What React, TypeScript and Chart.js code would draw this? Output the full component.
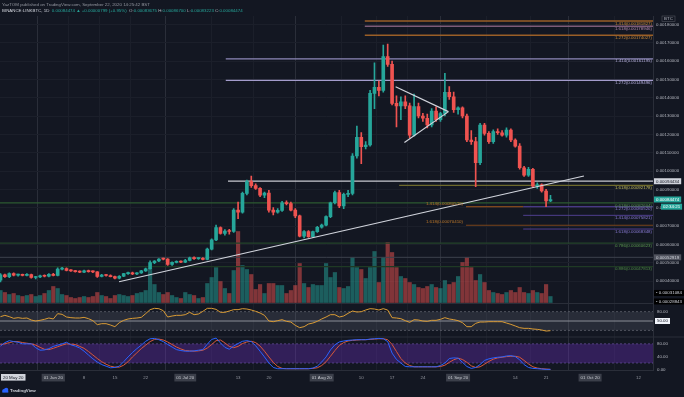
import { useEffect, useRef } from "react";
import { Chart, registerables } from "chart.js";

Chart.register(...registerables);

const FONT = "'Liberation Sans', Arial, sans-serif";
const FS = 4.4;
const BG = "#131722";
const TEAL = "#26a69a";
const RED = "#ef5350";

const HEADER_AUTHOR = "YazTOM published on TradingView.com, September 22, 2020 14:25:42 BST";
const SYMBOL = "BINANCE:LINKBTC, 1D";
const COUNTDOWN = "02:34:21";
const CURSOR_DATE = "20 May 20";
const QUOTE = "BTC";

// prices below are in units of 0.0001 BTC; day 0 = 01 Jun 2020, first candle 20 May 2020
const PRICE_UNIT = 1e-4;
const FIRST_DAY = -12;

const OPEN = [
  4.05, 4.33, 4.24, 4.40, 4.32, 4.34, 4.31, 4.35, 4.19, 4.22, 4.28, 4.26,
  4.36, 4.30, 4.65, 4.68, 4.58, 4.55, 4.51, 4.48, 4.56, 4.51,
  4.50, 4.25, 4.32, 4.30, 4.24, 4.15, 4.26, 4.40, 4.45, 4.38,
  4.44, 4.55, 4.67, 5.00, 5.09, 5.20, 5.19, 4.90, 5.02, 5.05,
  5.03, 5.12, 5.26, 5.22, 5.24, 5.18, 5.74, 6.24, 6.91, 6.60,
  6.73, 6.70, 7.87, 7.75, 8.78, 9.42, 9.20, 9.05, 8.68, 8.80,
  7.87, 7.76, 7.85, 8.27, 8.22, 7.87, 7.55, 6.45, 6.70, 6.42,
  6.69, 6.93, 7.05, 7.51, 8.27, 8.82, 8.10, 8.73, 8.78, 10.82,
  11.84, 11.33, 11.42, 14.24, 14.56, 14.40, 16.24, 15.82, 13.69, 13.55,
  13.78, 13.55, 11.96, 13.52, 13.00, 12.88, 12.51, 13.27, 12.80, 13.14,
  14.29, 14.05, 13.35, 13.45, 13.00, 11.69, 11.60, 10.45, 12.51, 12.05,
  11.60, 12.15, 12.09, 11.96, 12.24, 11.69, 11.36, 10.18, 9.78, 10.09,
  9.18, 9.25, 8.91, 8.3675,
];
const HIGH = [
  4.40, 4.38, 4.45, 4.45, 4.38, 4.38, 4.40, 4.38, 4.26, 4.32, 4.33, 4.40,
  4.42, 4.72, 4.75, 4.72, 4.62, 4.58, 4.56, 4.60, 4.60, 4.56,
  4.52, 4.36, 4.36, 4.33, 4.27, 4.30, 4.42, 4.48, 4.48, 4.46,
  4.58, 4.70, 5.10, 5.12, 5.22, 5.25, 5.22, 5.05, 5.10, 5.10,
  5.18, 5.30, 5.32, 5.28, 5.28, 5.80, 6.30, 7.05, 6.95, 6.80,
  6.82, 7.95, 8.30, 8.85, 9.50, 9.73, 9.30, 9.10, 8.85, 8.95,
  8.00, 7.95, 8.35, 8.38, 8.30, 7.95, 7.60, 6.75, 6.75, 6.72,
  6.98, 7.10, 7.55, 8.30, 8.90, 8.95, 8.80, 8.95, 10.95, 12.45,
  12.10, 11.60, 14.40, 15.90, 14.90, 16.87, 16.93, 16.00, 14.10, 14.05,
  14.10, 13.70, 14.20, 13.70, 13.15, 13.10, 13.40, 13.50, 13.20, 15.33,
  14.60, 14.30, 13.50, 13.50, 13.10, 12.20, 11.84, 12.60, 12.60, 12.15,
  12.25, 12.30, 12.20, 12.35, 12.30, 11.75, 11.50, 10.25, 10.20, 10.15,
  9.35, 9.30, 9.00, 8.67,
];
const LOW = [
  3.95, 4.20, 4.18, 4.28, 4.26, 4.28, 4.28, 4.15, 4.12, 4.18, 4.22, 4.22,
  4.28, 4.28, 4.60, 4.55, 4.52, 4.48, 4.46, 4.45, 4.48, 4.46,
  4.20, 4.22, 4.26, 4.22, 4.12, 4.12, 4.24, 4.36, 4.35, 4.35,
  4.42, 4.52, 4.65, 4.95, 5.05, 5.15, 4.85, 4.85, 4.98, 5.00,
  5.00, 5.10, 5.18, 5.18, 5.15, 5.15, 5.70, 6.20, 6.55, 6.50,
  6.55, 6.65, 7.40, 7.70, 8.70, 9.10, 9.00, 8.60, 8.55, 7.75,
  7.60, 7.70, 7.80, 8.15, 7.82, 7.45, 6.40, 6.35, 6.38, 6.38,
  6.65, 6.88, 7.00, 7.45, 8.20, 8.00, 7.95, 8.60, 8.70, 10.70,
  10.40, 11.20, 11.35, 13.40, 14.10, 14.30, 15.70, 13.60, 12.40, 12.80,
  13.40, 11.80, 11.90, 12.90, 12.70, 12.35, 12.40, 12.70, 12.70, 13.00,
  13.90, 13.20, 13.10, 12.90, 11.60, 11.45, 9.15, 10.35, 11.95, 11.50,
  11.50, 12.00, 11.90, 11.85, 11.60, 11.30, 10.10, 9.70, 9.70, 9.10,
  9.05, 8.85, 8.05, 8.3223,
];
const CLOSE = [
  4.33, 4.24, 4.40, 4.32, 4.34, 4.31, 4.35, 4.19, 4.22, 4.28, 4.26, 4.36,
  4.30, 4.65, 4.68, 4.58, 4.55, 4.51, 4.48, 4.56, 4.51, 4.50,
  4.25, 4.32, 4.30, 4.24, 4.15, 4.26, 4.40, 4.45, 4.38, 4.44,
  4.55, 4.67, 5.00, 5.09, 5.20, 5.19, 4.90, 5.02, 5.05, 5.03,
  5.12, 5.26, 5.22, 5.24, 5.18, 5.74, 6.24, 6.91, 6.60, 6.73,
  6.70, 7.87, 7.75, 8.78, 9.42, 9.20, 9.05, 8.68, 8.80, 7.87,
  7.76, 7.85, 8.27, 8.22, 7.87, 7.55, 6.45, 6.70, 6.42, 6.69,
  6.93, 7.05, 7.51, 8.27, 8.82, 8.10, 8.73, 8.78, 10.82, 11.84,
  11.33, 11.42, 14.24, 14.56, 14.40, 16.24, 15.82, 13.69, 13.55, 13.78,
  13.55, 11.96, 13.52, 13.00, 12.88, 12.51, 13.27, 12.80, 13.14, 14.29,
  14.05, 13.35, 13.45, 13.00, 11.69, 11.60, 10.45, 12.51, 12.05, 11.60,
  12.15, 12.09, 11.96, 12.24, 11.69, 11.36, 10.18, 9.78, 10.09, 9.18,
  9.25, 8.91, 8.3675, 8.4474,
];
const VOLUME = [
  12, 10, 8, 9, 7, 6, 7, 8, 6, 7, 9, 12,
  16, 14, 8, 7, 5, 4, 5, 6, 5, 6,
  10, 7, 6, 4, 7, 8, 7, 6, 7, 9,
  10, 12, 34, 18, 10, 8, 10, 7, 5, 4,
  10, 8, 7, 4, 5, 19, 25, 35, 21, 14,
  9, 32, 71, 37, 33, 28, 13, 18, 9, 19,
  19, 17, 17, 9, 12, 17, 39, 19, 15, 18,
  17, 17, 39, 25, 30, 15, 14, 16, 45, 35,
  33, 24, 35, 51, 20, 45, 60, 50, 35, 26,
  24, 20, 18, 15, 14, 16, 18, 15, 14, 22,
  18, 20, 26, 40, 45, 35, 22, 28, 20, 12,
  10, 9, 8, 10, 12, 10, 15, 10, 9, 12,
  10, 9, 18, 6,
];
const RSI = [
  64.0, 68.3, 64.0, 58.6, 60.8, 58.6, 59.7, 53.2, 50.0, 52.2, 55.4, 59.7,
  56.5, 73.7, 71.5, 62.9, 60.8, 59.7, 59.7, 61.8, 57.5, 51.1,
  38.2, 41.4, 41.4, 37.1, 31.7, 44.6, 52.2, 56.5, 58.6, 59.7,
  61.8, 73.7, 86.6, 90.9, 89.8, 83.3, 62.9, 66.1, 68.3, 68.3,
  70.4, 78.0, 70.4, 72.6, 81.2, 90.9, 90.9, 87.6, 78.0, 78.0,
  82.3, 86.6, 86.6, 89.8, 88.7, 85.5, 81.2, 75.8, 68.3, 50.0,
  47.8, 51.1, 54.3, 48.9, 46.8, 36.0, 28.5, 31.7, 40.3, 43.5,
  48.9, 56.5, 62.9, 70.4, 70.4, 62.9, 66.1, 74.7, 82.3, 79.0,
  80.1, 85.5, 89.8, 88.7, 85.5, 89.8, 85.5, 60.8, 59.7, 57.5,
  51.1, 45.7, 54.3, 53.2, 50.0, 48.9, 52.2, 52.2, 55.4, 60.8,
  56.5, 54.3, 51.1, 44.6, 31.7, 31.7, 42.5, 46.8, 46.8, 47.8,
  47.8, 47.8, 47.8, 43.5, 39.2, 33.9, 28.5, 26.3, 26.3, 24.2,
  23.1, 21.0, 17.7, 18.8,
];
const STOCH_K = [
  73, 84, 90, 87, 85, 80, 80, 80, 68, 60, 61, 65,
  72, 76, 80, 85, 77, 73, 67, 57, 45, 33,
  23, 15, 10, 5, 6, 10, 24, 39, 53, 65,
  76, 88, 96, 97, 93, 87, 78, 70, 62, 59,
  57, 57, 58, 60, 62, 79, 94, 98, 83, 69,
  63, 73, 81, 88, 90, 87, 74, 57, 39, 20,
  6, 2, 2, 2, 2, 2, 2, 2, 2, 4,
  10, 23, 39, 61, 77, 86, 89, 91, 92, 93,
  93, 93, 95, 96, 97, 96, 87, 51, 31, 20,
  9, 8, 8, 8, 8, 8, 8, 8, 12, 20,
  34, 36, 35, 22, 9, 3, 6, 15, 28, 33,
  36, 38, 39, 42, 43, 40, 30, 15, 6, 3,
  2, 1, 0, 0,
];
const STOCH_D = [
  78, 80, 84, 87, 87, 84, 82, 80, 76, 69, 63, 62,
  66, 71, 76, 80, 79, 78, 72, 66, 56, 45,
  34, 24, 16, 10, 7, 7, 13, 24, 39, 52,
  65, 76, 87, 94, 95, 92, 86, 78, 70, 64,
  59, 58, 57, 58, 60, 67, 78, 90, 92, 83,
  72, 68, 72, 81, 86, 88, 84, 73, 57, 39,
  22, 9, 3, 2, 2, 2, 2, 2, 2, 3,
  5, 12, 24, 41, 59, 75, 84, 89, 91, 92,
  93, 93, 94, 95, 96, 96, 93, 78, 56, 34,
  20, 12, 8, 8, 8, 8, 8, 8, 9, 13,
  22, 30, 35, 31, 22, 11, 6, 8, 16, 25,
  32, 36, 38, 40, 41, 41, 38, 28, 17, 8,
  4, 2, 1, 0,
];

const PRICE_TICKS = [0.0004, 0.0005, 0.0006, 0.0007, 0.0008, 0.0009, 0.001, 0.0011, 0.0012, 0.0013, 0.0014, 0.0015, 0.0016, 0.0017, 0.0018];
const RSI_TICKS = [80, 50];
const STOCH_TICKS = [80, 40, 0];
const RSI_BAND = [80, 50, 20];
const STOCH_BAND = [80, 20];
const TIME_TICK_DAYS = [0, 7, 14, 21, 30, 42, 49, 61, 70, 77, 84, 92, 105, 112, 122, 133];
const TIME_TICK_LABELS = ["01 Jun 20", "8", "15", "22", "01 Jul 20", "13", "20", "01 Aug 20", "10", "17", "24", "01 Sep 20", "14", "21", "01 Oct 20", "12"];

// horizontal drawing levels (price, start day, end day or null = right edge)
const LEVEL_PRICES = [0.00181827, 0.00178946, 0.00174027, 0.00161195, 0.00149496, 0.00094434, 0.00092178, 0.00082604, 0.0008052, 0.0008052, 0.00075821, 0.0007041, 0.00068348, 0.00060623, 0.00052919, 0.00047813];
const LEVEL_FROM = [70.8, 70.8, 70.8, 39.2, 39.2, 39.7, 78.6, -13, 93.8, 106.8, 106.8, 93.8, 106.8, -13, -13, -13];
const LEVEL_TO = [null, null, null, null, null, null, null, null, 106.8, null, null, null, null, null, null, null];
const LEVEL_TEXT = ["1.414(0.00181827)", "1.618(0.00178946)", "1.272(0.00174027)", "1.414(0.00161195)", "1.272(0.00149496)", "", "1.618(0.00092178)", "0.618(0.00082604)", "", "1.272(0.00080520)", "1.414(0.00075821)", "", "1.618(0.00068348)", "0.786(0.00060623)", "", "0.886(0.00047813)"];
const LEVEL_LEFT_TEXT = ["", "", "", "", "", "", "", "", "1.414(0.00080520)", "", "", "1.618(0.00070410)", "", "", "", ""];
const LEVEL_STYLE = [
  { line: "#9a5f27", text: "#c98a3a", w: 1.5 },
  { line: "#7d5c78", text: "#b78bb0", w: 1.5 },
  { line: "#9a5f27", text: "#c98a3a", w: 1.5 },
  { line: "#8e88b8", text: "#b0aad6", w: 1.2 },
  { line: "#a39ccc", text: "#b6b0de", w: 1.2 },
  { line: "#c8cad0", text: "#c8cad0", w: 1.2 },
  { line: "#6e6a2c", text: "#c4bd62", w: 1.2 },
  { line: "#2c5a30", text: "#5a9a4e", w: 1.2 },
  { line: "#a35a1c", text: "#c07a2a", w: 1.2 },
  { line: "#5b46a6", text: "#8a7cd6", w: 1.2 },
  { line: "#4f3f8f", text: "#8a7cd6", w: 1 },
  { line: "#7a451b", text: "#c07a2a", w: 1.2 },
  { line: "#4f3f8f", text: "#8a7cd6", w: 1 },
  { line: "#24452a", text: "#5a9a4e", w: 1.2 },
  { line: "#3d414c", text: "#d1d4dc", w: 1 },
  { line: "#1f3a24", text: "#4f8a45", w: 1.2 },
];
const AXIS_BOX_LEVELS = [5, 14]; // levels that show a tag on the price axis
const EXTRA_AXIS_VALUES = [0.00031084, 0.00028843];

const TREND_LINES = [
  [{ x: 14.95, y: 0.000396 }, { x: 120.6, y: 0.000973 }],
  [{ x: 77.8, y: 0.00146 }, { x: 89.8, y: 0.001324 }],
  [{ x: 79.8, y: 0.001155 }, { x: 89.8, y: 0.001324 }],
];

const X_MIN = -12.11;
const X_MAX = 136.3;

export default function App() {
  const ref = useRef<HTMLCanvasElement>(null);

  useEffect(() => {
    const canvas = ref.current;
    if (!canvas) return;
    const U = PRICE_UNIT;
    const days = OPEN.map((_, i) => FIRST_DAY + i);
    const isUp = (i: number) => CLOSE[i] >= OPEN[i];
    const cColors = days.map((_, i) => (isUp(i) ? TEAL : RED));
    const vColors = days.map((_, i) => (isUp(i) ? "rgba(38,166,154,0.5)" : "rgba(239,83,80,0.5)"));
    const last = CLOSE.length - 1;
    const fmt = (v: number) => v.toFixed(8);

    const levelSets = LEVEL_PRICES.map((p, i) => ({
      type: "line",
      xAxisID: "x",
      yAxisID: "yPrice",
      data: [
        { x: LEVEL_FROM[i], y: p },
        { x: LEVEL_TO[i] === null ? X_MAX + 1 : LEVEL_TO[i], y: p },
      ],
      borderColor: LEVEL_STYLE[i].line,
      borderWidth: LEVEL_STYLE[i].w,
      pointRadius: 0,
      order: 5,
    }));
    const trendSets = TREND_LINES.map((pts) => ({
      type: "line",
      xAxisID: "x",
      yAxisID: "yPrice",
      data: pts,
      borderColor: "#d1d4dc",
      borderWidth: 1.2,
      pointRadius: 0,
      order: 0,
    }));

    const deco = {
      id: "tvDeco",
      beforeDraw(chart: any) {
        const { ctx } = chart;
        ctx.save();
        ctx.fillStyle = BG;
        ctx.fillRect(0, 0, chart.width, chart.height);
        ctx.restore();
      },
      beforeDatasetsDraw(chart: any) {
        const { ctx, chartArea: ca, scales } = chart;
        const yr = scales.yRsi;
        const ys = scales.yStoch;
        ctx.save();
        // RSI band
        const r1 = yr.getPixelForValue(RSI_BAND[0]);
        const r3 = yr.getPixelForValue(RSI_BAND[2]);
        ctx.fillStyle = "rgba(126,130,144,0.2)";
        ctx.fillRect(ca.left, r1, ca.right - ca.left, r3 - r1);
        ctx.strokeStyle = "#5d606b";
        ctx.lineWidth = 0.8;
        ctx.setLineDash([2, 2]);
        [r1, r3].forEach((y) => {
          ctx.beginPath();
          ctx.moveTo(ca.left, y);
          ctx.lineTo(ca.right, y);
          ctx.stroke();
        });
        ctx.setLineDash([]);
        ctx.strokeStyle = "#8a8d96";
        ctx.lineWidth = 1;
        const r2 = yr.getPixelForValue(RSI_BAND[1]);
        ctx.beginPath();
        ctx.moveTo(ca.left, r2);
        ctx.lineTo(ca.right, r2);
        ctx.stroke();
        // Stoch band
        const s1 = ys.getPixelForValue(STOCH_BAND[0]);
        const s2 = ys.getPixelForValue(STOCH_BAND[1]);
        ctx.fillStyle = "rgba(112,48,196,0.34)";
        ctx.fillRect(ca.left, s1, ca.right - ca.left, s2 - s1);
        ctx.strokeStyle = "#5e4a90";
        ctx.lineWidth = 0.8;
        ctx.setLineDash([2, 2]);
        [s1, s2].forEach((y) => {
          ctx.beginPath();
          ctx.moveTo(ca.left, y);
          ctx.lineTo(ca.right, y);
          ctx.stroke();
        });
        ctx.setLineDash([]);
        // pane separators
        ctx.strokeStyle = "#2a2e39";
        ctx.lineWidth = 1;
        [yr.top, ys.top].forEach((y) => {
          ctx.beginPath();
          ctx.moveTo(0, y);
          ctx.lineTo(chart.width, y);
          ctx.stroke();
        });
        ctx.restore();
      },
      afterDraw(chart: any) {
        const { ctx, chartArea: ca, scales } = chart;
        const yp = scales.yPrice;
        const yr = scales.yRsi;
        const xs = scales.x;
        ctx.save();
        ctx.font = `${FS}px ${FONT}`;
        ctx.textBaseline = "middle";

        // header
        ctx.textAlign = "left";
        ctx.fillStyle = "#9598a1";
        ctx.fillText(HEADER_AUTHOR, 2, 4.5);
        const chg = (CLOSE[last] - CLOSE[last - 1]) * U;
        const pct = ((CLOSE[last] - CLOSE[last - 1]) / CLOSE[last - 1]) * 100;
        const segs: [string, string][] = [
          [SYMBOL + "  ", "#d1d4dc"],
          [`${fmt(CLOSE[last] * U)} \u25B2 +${fmt(chg)} (+${pct.toFixed(2)}%)  `, TEAL],
          ["O:", "#b2b5be"], [fmt(OPEN[last] * U) + " ", TEAL],
          ["H:", "#b2b5be"], [fmt(HIGH[last] * U) + " ", TEAL],
          ["L:", "#b2b5be"], [fmt(LOW[last] * U) + " ", TEAL],
          ["C:", "#b2b5be"], [fmt(CLOSE[last] * U), TEAL],
        ];
        let hx = 2;
        segs.forEach(([t, c]) => {
          ctx.fillStyle = c;
          ctx.fillText(t, hx, 10.8);
          hx += ctx.measureText(t).width;
        });

        // level labels
        LEVEL_PRICES.forEach((p, i) => {
          const y = yp.getPixelForValue(p);
          if (LEVEL_TEXT[i]) {
            ctx.textAlign = "right";
            ctx.fillStyle = LEVEL_STYLE[i].text;
            ctx.fillText(LEVEL_TEXT[i], ca.right - 1, y + 2.4);
          }
          if (LEVEL_LEFT_TEXT[i]) {
            ctx.textAlign = "right";
            ctx.fillStyle = LEVEL_STYLE[i].text;
            ctx.fillText(LEVEL_LEFT_TEXT[i], xs.getPixelForValue(LEVEL_FROM[i]) - 3, y - 3.2);
          }
        });

        // axis tags
        const tag = (text: string, y: number, bg: string, fg: string, left = ca.right + 1) => {
          ctx.textAlign = "left";
          const w = ctx.measureText(text).width + 4;
          ctx.fillStyle = bg;
          ctx.fillRect(left, y - 3, w, 6);
          ctx.fillStyle = fg;
          ctx.fillText(text, left + 2, y + 0.2);
        };
        AXIS_BOX_LEVELS.forEach((li, k) => {
          const y = yp.getPixelForValue(LEVEL_PRICES[li]);
          tag(fmt(LEVEL_PRICES[li]), y, k === 0 ? "#d1d4dc" : "#50535e", k === 0 ? BG : "#d1d4dc");
        });
        const yl = yp.getPixelForValue(CLOSE[last] * U);
        tag(fmt(CLOSE[last] * U), yl, TEAL, "#ffffff");
        tag(COUNTDOWN, yl + 7.2, TEAL, "#ffffff", ca.right + 8);
        let prevY = -100;
        EXTRA_AXIS_VALUES.slice().reverse().forEach((v) => {
          let y = yp.getPixelForValue(v);
          if (prevY > 0 && prevY - y < 8.5) y = prevY - 8.5;
          tag("\u2022 " + fmt(v), y, "#000000", "#d1d4dc");
          prevY = y;
        });
        // quote currency tag
        ctx.strokeStyle = "#50535e";
        ctx.lineWidth = 0.6;
        ctx.strokeRect(ca.right + 9, 16, 13, 5.6);
        ctx.fillStyle = "#b2b5be";
        ctx.textAlign = "center";
        ctx.fillText(QUOTE, ca.right + 15.5, 18.9);
        // RSI mid tag
        const y50 = yr.getPixelForValue(RSI_BAND[1]);
        tag(RSI_BAND[1].toFixed(2), y50, "#f0f3fa", BG, ca.right + 2);

        // cursor date tag on time axis
        const cx = xs.getPixelForValue(FIRST_DAY);
        const cw = ctx.measureText(CURSOR_DATE).width + 4;
        const cl = Math.max(1, cx - cw / 2);
        ctx.fillStyle = "#d1d4dc";
        ctx.fillRect(cl, 374, cw, 6.6);
        ctx.fillStyle = BG;
        ctx.textAlign = "left";
        ctx.fillText(CURSOR_DATE, cl + 2, 377.4);

        // TradingView logo
        ctx.fillStyle = "#2962ff";
        ctx.beginPath();
        ctx.arc(4, 390.6, 1.7, 0, Math.PI * 2);
        ctx.arc(6.2, 389.8, 2.1, 0, Math.PI * 2);
        ctx.fill();
        ctx.fillRect(2.3, 390.6, 6, 2);
        ctx.fillStyle = "#d1d4dc";
        ctx.textAlign = "left";
        ctx.font = `bold ${FS}px ${FONT}`;
        ctx.fillText("TradingView", 10, 390.8);
        ctx.restore();
      },
    };

    const chart = new Chart(canvas, {
      type: "bar",
      data: {
        datasets: [
          ...trendSets,
          {
            type: "bar",
            label: "body",
            xAxisID: "x",
            yAxisID: "yPrice",
            data: days.map((d, i) => ({ x: d, y: [OPEN[i] * U, CLOSE[i] * U] })),
            backgroundColor: cColors,
            barThickness: 3,
            minBarLength: 1,
            grouped: false,
            order: 1,
          },
          {
            type: "bar",
            label: "wick",
            xAxisID: "x",
            yAxisID: "yPrice",
            data: days.map((d, i) => ({ x: d, y: [LOW[i] * U, HIGH[i] * U] })),
            backgroundColor: cColors,
            barThickness: 1,
            grouped: false,
            order: 2,
          },
          ...levelSets,
          {
            type: "bar",
            label: "volume",
            xAxisID: "x",
            yAxisID: "yVol",
            data: days.map((d, i) => ({ x: d, y: VOLUME[i] })),
            backgroundColor: vColors,
            barThickness: 3.5,
            grouped: false,
            order: 10,
          },
          {
            type: "line",
            label: "RSI",
            xAxisID: "x",
            yAxisID: "yRsi",
            data: days.map((d, i) => ({ x: d, y: RSI[i] })),
            borderColor: "#d99b35",
            borderWidth: 1,
            pointRadius: 0,
            order: 3,
          },
          {
            type: "line",
            label: "%D",
            xAxisID: "x",
            yAxisID: "yStoch",
            data: days.map((d, i) => ({ x: d, y: STOCH_D[i] })),
            borderColor: "#d9573a",
            borderWidth: 1,
            pointRadius: 0,
            order: 4,
          },
          {
            type: "line",
            label: "%K",
            xAxisID: "x",
            yAxisID: "yStoch",
            data: days.map((d, i) => ({ x: d, y: STOCH_K[i] })),
            borderColor: "#2962ff",
            borderWidth: 1,
            pointRadius: 0,
            order: 3,
          },
        ] as any,
      },
      options: {
        animation: false,
        responsive: false,
        devicePixelRatio: 1,
        events: [],
        layout: { padding: { top: 16, bottom: 14, left: 0, right: 0 } },
        plugins: { legend: { display: false }, tooltip: { enabled: false } },
        scales: {
          x: {
            type: "linear",
            position: "bottom",
            min: X_MIN,
            max: X_MAX,
            offset: false,
            afterBuildTicks: (s: any) => {
              s.ticks = TIME_TICK_DAYS.map((v) => ({ value: v }));
            },
            afterFit: (s: any) => {
              s.height = 13;
            },
            ticks: {
              autoSkip: false,
              maxRotation: 0,
              padding: 5,
              font: { size: FS, family: FONT },
              color: (c: any) => (TIME_TICK_LABELS[c.index]?.length > 3 ? "#c7cad1" : "#9598a1"),
              callback: (_v: any, i: number) => TIME_TICK_LABELS[i],
              showLabelBackdrop: (c: any) => TIME_TICK_LABELS[c.index]?.length > 3,
              backdropColor: "#3b3f4a",
              backdropPadding: { x: 2, y: 1.2 },
            },
            grid: {
              color: (c: any) => (TIME_TICK_LABELS[c.index]?.length > 3 ? "#2a2e39" : "#1b1f2a"),
              drawTicks: false,
              lineWidth: 1,
            },
            border: { display: true, color: "#2a2e39" },
          },
          yVol: {
            type: "linear",
            display: false,
            position: "left",
            min: -67.5,
            max: 286.5,
          },
          yPrice: {
            type: "linear",
            position: "right",
            stack: "panes",
            stackWeight: 287.5,
            min: 0.00027726,
            max: 0.0018457,
            afterBuildTicks: (s: any) => {
              s.ticks = PRICE_TICKS.map((v) => ({ value: v }));
            },
            afterFit: (s: any) => {
              s.width = 31;
            },
            ticks: {
              padding: 3,
              font: { size: FS, family: FONT },
              color: "#b2b5be",
              callback: (v: any) => Number(v).toFixed(8),
            },
            grid: { color: "#1b1f2a", drawTicks: false },
            border: { color: "#2a2e39" },
          },
          yRsi: {
            type: "linear",
            position: "right",
            stack: "panes",
            stackWeight: 33.5,
            min: -1.6,
            max: 106.5,
            afterBuildTicks: (s: any) => {
              s.ticks = RSI_TICKS.map((v) => ({ value: v }));
            },
            afterFit: (s: any) => {
              s.width = 31;
            },
            ticks: {
              padding: 4,
              font: { size: FS, family: FONT },
              color: "#b2b5be",
              callback: (v: any) => Number(v).toFixed(2),
            },
            grid: { drawOnChartArea: false, drawTicks: false },
            border: { color: "#2a2e39" },
          },
          yStoch: {
            type: "linear",
            position: "right",
            stack: "panes",
            stackWeight: 33,
            min: -2,
            max: 101.5,
            afterBuildTicks: (s: any) => {
              s.ticks = STOCH_TICKS.map((v) => ({ value: v }));
            },
            afterFit: (s: any) => {
              s.width = 31;
            },
            ticks: {
              padding: 4,
              font: { size: FS, family: FONT },
              color: "#b2b5be",
              callback: (v: any) => Number(v).toFixed(2),
            },
            grid: { drawOnChartArea: false, drawTicks: false },
            border: { color: "#2a2e39" },
          },
        },
      } as any,
      plugins: [deco],
    });

    return () => chart.destroy();
  }, []);

  return (
    <div style={{ position: "fixed", left: 0, top: 0, width: 684, height: 397, background: BG }}>
      <canvas ref={ref} width={684} height={397} style={{ display: "block", width: 684, height: 397 }} />
    </div>
  );
}
